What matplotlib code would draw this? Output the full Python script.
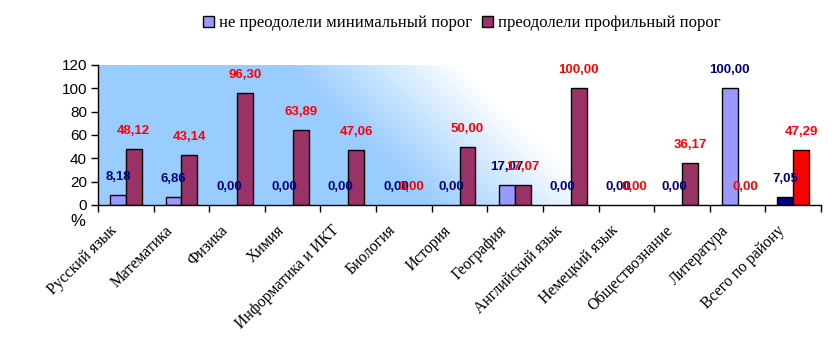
import numpy as np
import matplotlib
matplotlib.use("Agg")
import matplotlib.pyplot as plt
from matplotlib.patches import Patch
from matplotlib.transforms import ScaledTranslation

categories = ["Русский язык", "Математика", "Физика", "Химия", "Информатика и ИКТ",
              "Биология", "История", "География", "Английский язык", "Немецкий язык",
              "Обществознание", "Литература", "Всего по району"]
s1_name = "не преодолели минимальный порог"
s2_name = "преодолели профильный порог"
s1 = [8.18, 6.86, 0.00, 0.00, 0.00, 0.00, 0.00, 17.07, 0.00, 0.00, 0.00, 100.00, 7.05]
s2 = [48.12, 43.14, 96.30, 63.89, 47.06, 0.00, 50.00, 17.07, 100.00, 0.00, 36.17, 0.00, 47.29]
yticks = [0, 20, 40, 60, 80, 100, 120]

c1, c2 = "#9999FF", "#993366"
c1_last, c2_last = "#000080", "#FF0000"

fig = plt.figure(figsize=(8.4, 3.59), dpi=100)
ax = fig.add_axes([98/840, 154/359, (821-98)/840, 140/359])

n = len(categories)
x = np.arange(n)
w = 0.285

# gradient background
H, W = 100, 300
u = np.linspace(0, 1, W)[None, :]
v = np.linspace(1, 0, H)[:, None]
s = u + 0.2 * v
t = np.clip((s - 0.46) / 0.24, 0, 1)
blue = np.array([153, 204, 255]) / 255.0
white = np.array([1.0, 1.0, 1.0])
img = blue[None, None, :] * (1 - t[..., None]) + white[None, None, :] * t[..., None]
ax.imshow(img, extent=[-0.5, n - 0.5, 0, 120], aspect="auto", zorder=0, interpolation="bilinear")

cols1 = [c1] * (n - 1) + [c1_last]
cols2 = [c2] * (n - 1) + [c2_last]
lw1 = [1 if v > 0 else 0 for v in s1]
lw2 = [1 if v > 0 else 0 for v in s2]
ax.bar(x - w/2, s1, w, color=cols1, edgecolor="black", linewidth=lw1, zorder=2)
ax.bar(x + w/2, s2, w, color=cols2, edgecolor="black", linewidth=lw2, zorder=2)

def fmt(v):
    return f"{v:.2f}".replace(".", ",")

for i in range(n):
    ax.annotate(fmt(s1[i]), (x[i] - w/2, s1[i]), xytext=(0, 13), textcoords="offset points",
                ha="center", va="center", color="#000080", fontsize=9.5, fontweight="bold",
                family="Liberation Sans", zorder=3)
for i in range(n):
    ax.annotate(fmt(s2[i]), (x[i] + w/2, s2[i]), xytext=(0, 13), textcoords="offset points",
                ha="center", va="center", color="#FF0000", fontsize=9.5, fontweight="bold",
                family="Liberation Sans", zorder=4)

ax.set_xlim(-0.5, n - 0.5)
ax.set_ylim(0, 120)
ax.set_yticks(yticks)
ax.set_yticklabels([str(v) for v in yticks], family="Liberation Sans", fontsize=11)
ax.tick_params(axis="y", direction="out", length=5, width=1, pad=3)
ax.set_xticks(x)
ax.set_xticklabels(categories, rotation=45, ha="right", va="center", rotation_mode="anchor",
                   family="Liberation Serif", fontsize=11.3)
ax.tick_params(axis="x", which="major", length=0, pad=0)
off = ScaledTranslation(-11/100, -23/100, fig.dpi_scale_trans)
for lab in ax.get_xticklabels():
    lab.set_transform(lab.get_transform() + off)
ax.set_xticks(np.arange(n + 1) - 0.5, minor=True)
ax.tick_params(axis="x", which="minor", direction="out", length=5, width=1)
for sp in ["top", "right"]:
    ax.spines[sp].set_visible(False)
for sp in ["left", "bottom"]:
    ax.spines[sp].set_linewidth(1)
    ax.spines[sp].set_zorder(5)

fig.text(78/840, 1 - 222/359, "%", ha="center", va="center", fontsize=12, family="Liberation Sans")

handles = [Patch(facecolor=c1, edgecolor="black", linewidth=1),
           Patch(facecolor=c2, edgecolor="black", linewidth=1)]
fig.legend(handles, [s1_name, s2_name], loc="center", bbox_to_anchor=(462/840, 1 - 23/359),
           ncol=2, frameon=False, prop={"family": "Liberation Serif", "size": 12},
           handlelength=0.65, handleheight=0.65, handletextpad=0.3, columnspacing=0.6)

fig.savefig("out.png", dpi=100)
